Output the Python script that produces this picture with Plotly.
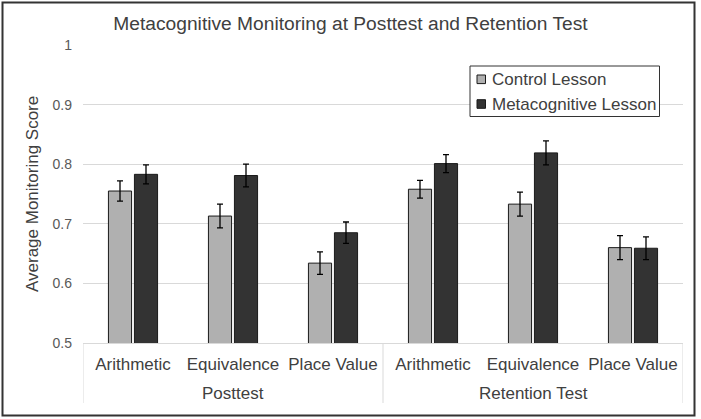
import plotly.graph_objects as go

tests = ["Posttest", "Posttest", "Posttest", "Retention Test", "Retention Test", "Retention Test"]
skills = ["Arithmetic", "Equivalence", "Place Value", "Arithmetic", "Equivalence", "Place Value"]
series_names = ["Control Lesson", "Metacognitive Lesson"]

control = [0.755, 0.713, 0.634, 0.758, 0.733, 0.660]
control_err = [0.017, 0.020, 0.019, 0.015, 0.020, 0.020]
metacog = [0.783, 0.781, 0.685, 0.801, 0.819, 0.659]
metacog_err = [0.016, 0.019, 0.018, 0.015, 0.020, 0.019]

colors = ["#b0b0b0", "#333333"]

W, H = 701, 419
L, R, T, B = 83, 18, 45, 76
pw, ph = W - L - R, H - T - B

def px(x):
    return (x - L) / pw

def py(y):
    return (H - B - y) / ph

idx = list(range(len(skills)))

fig = go.Figure()
for name, vals, errs, col in [(series_names[0], control, control_err, colors[0]),
                              (series_names[1], metacog, metacog_err, colors[1])]:
    fig.add_trace(go.Bar(
        x=idx, y=vals, name=name,
        marker=dict(color=col, line=dict(color="#1a1a1a", width=1)),
        error_y=dict(type="data", array=errs, color="#000000", thickness=1.3, width=3),
        showlegend=False,
    ))

font_family = "Liberation Sans, Arial, sans-serif"
txt = "#404040"

# group labels and dividers from the test names
groups = []
for i, g in enumerate(tests):
    if not groups or groups[-1][0] != g:
        groups.append([g, i, i])
    else:
        groups[-1][2] = i

annotations = []
shapes = []
for g, i0, i1 in groups:
    annotations.append(dict(text=g, xref="x", yref="paper", x=(i0 + i1) / 2, y=py(393),
                            xanchor="center", yanchor="middle", showarrow=False,
                            font=dict(size=17, color=txt)))
bounds = [groups[0][1] - 0.5] + [g[2] + 0.5 for g in groups]
for b in bounds:
    shapes.append(dict(type="line", xref="x", yref="paper", x0=b, x1=b, y0=0, y1=py(403),
                       line=dict(color="#d9d9d9", width=1)))

annotations.append(dict(text="Average Monitoring Score", xref="paper", yref="paper",
                        x=px(32), y=0.5, xanchor="center", yanchor="middle",
                        textangle=-90, showarrow=False, font=dict(size=17, color=txt)))

# legend box
shapes.append(dict(type="rect", xref="paper", yref="paper",
                   x0=px(470), x1=px(659.5), y0=py(116.5), y1=py(66),
                   line=dict(color="#333333", width=1), fillcolor="white", layer="above"))
for k, (name, col) in enumerate(zip(series_names, colors)):
    cy = 79.3 + 24.7 * k
    shapes.append(dict(type="rect", xref="paper", yref="paper",
                       x0=px(477), x1=px(485.5), y0=py(cy + 4.3), y1=py(cy - 4.3),
                       line=dict(color="#1a1a1a", width=1), fillcolor=col, layer="above"))
    annotations.append(dict(text=name, xref="paper", yref="paper", x=px(489.5), y=py(cy),
                            xanchor="left", yanchor="middle", showarrow=False,
                            font=dict(size=17, color=txt)))

# outer frame
shapes.append(dict(type="rect", xref="paper", yref="paper",
                   x0=px(2.5), x1=px(694.5), y0=py(415.5), y1=py(2.5),
                   line=dict(color="#333333", width=2), fillcolor="rgba(0,0,0,0)"))

fig.update_layout(
    width=W, height=H,
    margin=dict(l=L, r=R, t=T, b=B, pad=0),
    paper_bgcolor="white", plot_bgcolor="white",
    font=dict(family=font_family, color=txt, size=17),
    title=dict(text="Metacognitive Monitoring at Posttest and Retention Test",
               x=0.5, xanchor="center", y=1 - 23 / H, yanchor="middle",
               font=dict(size=19.2, color=txt)),
    barmode="group", bargap=0.48, bargroupgap=0.11,
    showlegend=False,
    xaxis=dict(range=[-0.5, len(skills) - 0.5], tickmode="array", tickvals=idx, ticktext=skills,
               showline=True, linecolor="#d9d9d9", linewidth=1, tickangle=0,
               ticks="", ticklabelstandoff=6,
               tickfont=dict(size=17, color=txt), showgrid=False, zeroline=False,
               automargin=False, fixedrange=True),
    yaxis=dict(range=[0.5, 1.0], dtick=0.1, tick0=0.5, showgrid=True, gridcolor="#d9d9d9",
               gridwidth=1, zeroline=False, showline=False,
               tickfont=dict(size=14, color="#595959"), ticklabelstandoff=10,
               automargin=False, fixedrange=True),
    annotations=annotations,
    shapes=shapes,
)

fig.write_html("out.html", config={"displayModeBar": False},
               post_script="document.body.style.margin='0px';")
